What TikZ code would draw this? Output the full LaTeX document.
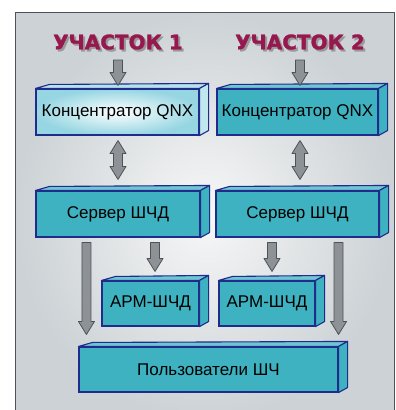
\documentclass[tikz,border=0pt]{standalone}
\usepackage{fontspec}
\setmainfont{Liberation Sans}
\newfontfamily\headfont{DejaVu Sans}[BoldFeatures={FakeBold=1.5}]
\usetikzlibrary{calc}

\definecolor{boxteal}{RGB}{62,178,192}
\definecolor{boxtop}{RGB}{110,198,210}
\definecolor{boxline}{RGB}{32,44,140}
\definecolor{concpale}{RGB}{150,214,226}
\definecolor{arrgray}{RGB}{140,146,150}
\definecolor{arrline}{RGB}{78,82,86}
\definecolor{headred}{RGB}{150,24,78}
\definecolor{bggray}{RGB}{204,210,213}

% top and side faces of a box node
\newcommand\cubeface[3]{%
  \filldraw[boxedge,fill=#2] (#1.north west) -- ($(#1.north west)+(14,-4)$)
    -- ($(#1.north east)+(9,-5)$) -- (#1.north east) -- cycle;
  \filldraw[boxedge,fill=#3] (#1.north east) -- ($(#1.north east)+(9,-5)$)
    -- ($(#1.south east)+(9,-5)$) -- (#1.south east) -- cycle;
}

% heading text with a grey shadow under it
\newcommand\shadowtext[1]{%
  \makebox[0pt][l]{\hspace{2pt}\raisebox{-2pt}{\color{black!40}#1}}#1}

% block arrows, x taken from the start point
\newcommand\blockarr[2]{%
  \path[blockarrow] let \p1=(#1), \p2=(#2) in
    (\x1-4.5pt,\y1) -- (\x1+4.5pt,\y1) -- (\x1+4.5pt,\y2+13pt) -- (\x1+8pt,\y2+13pt)
    -- (\x1,\y2) -- (\x1-8pt,\y2+13pt) -- (\x1-4.5pt,\y2+13pt) -- cycle;}
\newcommand\blockdbl[2]{%
  \path[blockarrow] let \p1=(#1), \p2=(#2) in
    (\x1,\y1) -- (\x1+8pt,\y1-13pt) -- (\x1+4.5pt,\y1-13pt) -- (\x1+4.5pt,\y2+13pt)
    -- (\x1+8pt,\y2+13pt) -- (\x1,\y2) -- (\x1-8pt,\y2+13pt) -- (\x1-4.5pt,\y2+13pt)
    -- (\x1-4.5pt,\y1-13pt) -- (\x1-8pt,\y1-13pt) -- cycle;}

\begin{document}
\begin{tikzpicture}[x=1pt,y=-1pt,
  box/.style={draw=boxline,line width=1.1pt,fill=boxteal,rectangle,inner sep=0pt,
    minimum height=46pt,font=\fontsize{17}{20}\selectfont},
  boxedge/.style={draw=boxline,line width=1.1pt,line join=round},
  blockarrow/.style={draw=arrline,fill=arrgray,line width=0.8pt,line join=round},
  head/.style={font=\headfont\bfseries\fontsize{20}{24}\selectfont,text=headred}]

  \useasboundingbox (0,0) rectangle (396,410);
  \clip (0,0) rectangle (396,410);

  % background panel
  \shade[inner color=gray!6,outer color=bggray] (15,12) rectangle (394,420);
  \draw[arrline,line width=0.8pt] (15,420) -- (15,12) -- (394,12) -- (394,420);

  % sites
  \node[head] (lab1) at (118,43) {\shadowtext{УЧАСТОК 1}};
  \node[head] (lab2) at (300,43) {\shadowtext{УЧАСТОК 2}};

  % boxes
  \node[box,minimum width=163pt,inner color=white,outer color=concpale] (conc1) at (117.5,112) {Концентратор QNX};
  \cubeface{conc1}{concpale!70!white}{concpale!60!white}
  \node[box,minimum width=161pt] (conc2) at (297.5,112) {Концентратор QNX};
  \cubeface{conc2}{boxtop}{boxteal}

  \node[box,minimum width=164pt] (srv1) at (118,214) {Сервер ШЧД};
  \cubeface{srv1}{boxtop}{boxteal}
  \node[box,minimum width=163pt] (srv2) at (297.5,214) {Сервер ШЧД};
  \cubeface{srv2}{boxtop}{boxteal}

  \node[box,minimum width=97pt,minimum height=45pt] (arm1) at (150.5,303.5) {АРМ-ШЧД};
  \cubeface{arm1}{boxtop}{boxteal}
  \node[box,minimum width=96pt,minimum height=45pt] (arm2) at (267,303.5) {АРМ-ШЧД};
  \cubeface{arm2}{boxtop}{boxteal}

  \node[box,minimum width=259pt,minimum height=45pt] (users) at (208.5,369.5) {Пользователи ШЧ};
  \cubeface{users}{boxtop}{boxteal}

  % arrows
  \blockarr{$(lab1.south)+(0,5)$}{$(conc1.north)+(0,-3)$}
  \blockarr{$(lab2.south)+(0,5)$}{$(conc2.north)+(0,-3)$}
  \blockdbl{$(conc1.south)+(0.5,5)$}{$(srv1.north)+(0,-11)$}
  \blockdbl{$(conc2.south)+(2.5,5)$}{$(srv2.north)+(0,-11)$}
  \blockarr{$(arm1.north |- srv1.south)+(4.5,5)$}{$(arm1.north)+(0,-9)$}
  \blockarr{$(arm2.north |- srv2.south)+(5,5)$}{$(arm2.north)+(0,-9)$}
  \blockarr{$(users.north west |- srv1.south)+(8,5)$}{$(users.north west)+(0,-12)$}
  \blockarr{$(users.north east |- srv2.south)+(0,5)$}{$(users.north east)+(0,-12)$}
\end{tikzpicture}
\end{document}
